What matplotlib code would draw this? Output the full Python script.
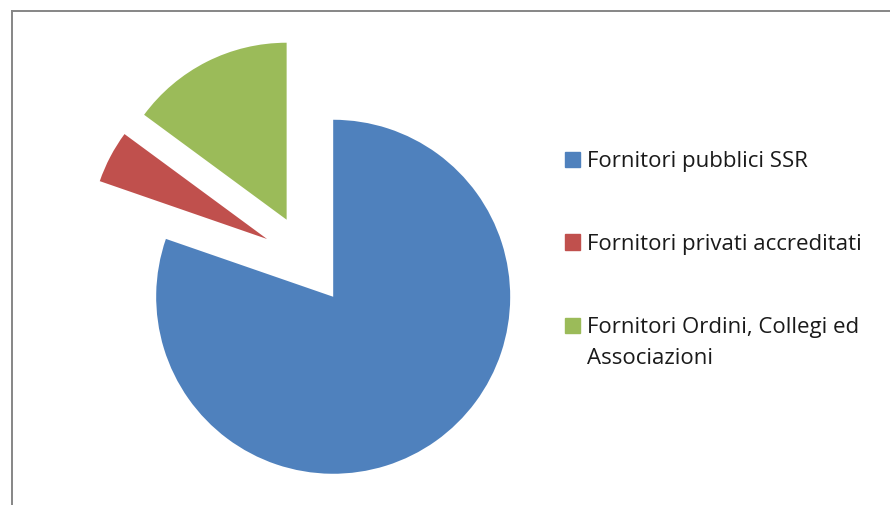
import matplotlib
matplotlib.use("Agg")
import matplotlib.pyplot as plt
from matplotlib.patches import Rectangle
from matplotlib.lines import Line2D

# dati (percentuali)
labels = ["Fornitori pubblici SSR", "Fornitori privati accreditati",
          "Fornitori Ordini, Collegi ed\nAssociazioni"]
values = [80.3, 4.8, 14.9]
colors = ["#4F81BD", "#C0504D", "#9BBB59"]

W, H = 890, 506
fig = plt.figure(figsize=(W / 100, H / 100), dpi=100)
ax = fig.add_axes([0, 0, 1, 1])

# centro della torta in pixel e raggio
cx, cy, r = 307, 261, 177
ax.pie(values, colors=colors, startangle=90, counterclock=False,
       explode=[0.255] * 3, radius=1, wedgeprops=dict(linewidth=0))
ax.set_xlim(-cx / r, (W - cx) / r)
ax.set_ylim(-(H - cy) / r, cy / r)
ax.set_aspect("equal", adjustable="datalim")
ax.axis("off")

# bordo del grafico
border = "#868686"
fig.add_artist(Line2D([12 / W, 12 / W], [0, 1 - 12 / H], color=border, lw=1.4,
                      transform=fig.transFigure))
fig.add_artist(Line2D([12 / W, 1], [1 - 12 / H, 1 - 12 / H], color=border, lw=1.4,
                      transform=fig.transFigure))

# legenda: linea di base del testo per ogni voce
baselines = [167.5, 250, 333]
for lab, col, yb in zip(labels, colors, baselines):
    fig.add_artist(Rectangle((565 / W, 1 - (yb + 0.5) / H), 15 / W, 15 / H,
                             color=col, transform=fig.transFigure))
    for i, line in enumerate(lab.split("\n")):
        fig.text(587 / W, 1 - (yb + 31 * i) / H, line, fontsize=16,
                 family="Open Sans", va="baseline", color="#1a1a1a")

fig.savefig("out.png", dpi=100)
